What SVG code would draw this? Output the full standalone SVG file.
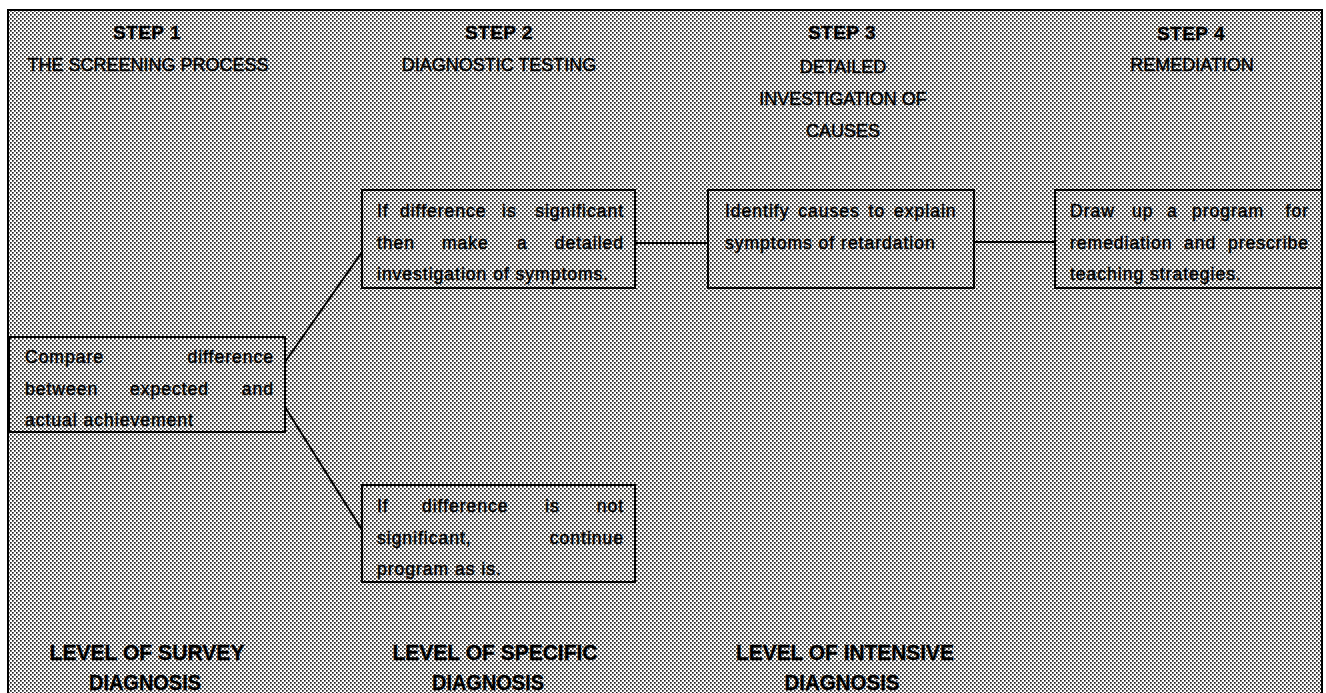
<svg xmlns="http://www.w3.org/2000/svg" width="1326" height="693" viewBox="0 0 1326 693">
<defs>
<pattern id="dots" width="4" height="4" patternUnits="userSpaceOnUse">
<rect width="4" height="4" fill="#ffffff"/>
<rect x="0" y="0" width="1.7" height="1.7" fill="#222222"/>
<rect x="2" y="2" width="1.7" height="1.7" fill="#222222"/>
</pattern>
<style>
.box{fill:none;stroke:#000;stroke-width:2;shape-rendering:crispEdges}
.con{fill:none;stroke:#000;stroke-width:2}
.h{shape-rendering:crispEdges}
.step{font-family:"Liberation Sans",Arial,sans-serif;font-weight:bold;font-size:19px;fill:#000;stroke:#000;stroke-width:0.3;text-anchor:middle;letter-spacing:0.5px}
.sub{font-family:"Liberation Sans",Arial,sans-serif;font-size:18px;fill:#000;stroke:#000;stroke-width:0.45;text-anchor:middle}
.body{font-family:"Liberation Sans",Arial,sans-serif;font-size:17.5px;fill:#000;stroke:#000;stroke-width:0.45;letter-spacing:1px}
.end{text-anchor:end}
.lvl{font-family:"Liberation Sans",Arial,sans-serif;font-weight:bold;font-size:22px;fill:#000;stroke:#000;stroke-width:0.3;text-anchor:middle}
</style>
</defs>
<rect x="0" y="0" width="1326" height="693" fill="#ffffff"/>
<rect id="frame" x="8" y="10" width="1314" height="700" fill="url(#dots)" stroke="#000" stroke-width="2" shape-rendering="crispEdges"/>

<g id="headers">
<text class="step" x="147" y="39">STEP 1</text>
<text class="sub" x="148" y="71">THE SCREENING PROCESS</text>
<text class="step" x="499" y="39">STEP 2</text>
<text class="sub" x="499" y="71">DIAGNOSTIC TESTING</text>
<text class="step" x="842" y="39">STEP 3</text>
<text class="sub" x="843" y="73">DETAILED</text>
<text class="sub" x="843" y="105">INVESTIGATION OF</text>
<text class="sub" x="843" y="137">CAUSES</text>
<text class="step" x="1191" y="40">STEP 4</text>
<text class="sub" x="1192" y="71">REMEDIATION</text>
</g>

<g id="connectors">
<line class="con" x1="285" y1="362" x2="362" y2="252"/>
<line class="con" x1="285" y1="407" x2="362" y2="530"/>
<line class="con h" x1="635" y1="243" x2="708" y2="243"/>
<line class="con h" x1="974" y1="242" x2="1055" y2="242"/>
</g>

<g id="nodeA">
<rect class="box" x="9" y="337" width="276" height="95"/>
<text class="body" x="25" y="363">Compare</text>
<text class="body end" x="274" y="363">difference</text>
<text class="body" y="395"><tspan x="25">between</tspan><tspan x="130">expected</tspan></text>
<text class="body end" x="274" y="395">and</text>
<text class="body" x="25" y="426">actual achievement</text>
</g>

<g id="nodeB">
<rect class="box" x="362" y="190" width="273" height="98"/>
<text class="body" y="217"><tspan x="377">If</tspan><tspan x="400">difference</tspan><tspan x="502">is</tspan></text>
<text class="body end" x="624" y="217">significant</text>
<text class="body" y="249"><tspan x="377">then</tspan><tspan x="442">make</tspan><tspan x="517">a</tspan></text>
<text class="body end" x="624" y="249">detailed</text>
<text class="body" x="377" y="280">investigation of symptoms.</text>
</g>

<g id="nodeC">
<rect class="box" x="708" y="190" width="266" height="98"/>
<text class="body" x="725" y="217" word-spacing="3">Identify causes to explain</text>
<text class="body" x="725" y="249">symptoms of retardation</text>
</g>

<g id="nodeD">
<rect class="box" x="1055" y="190" width="267" height="98"/>
<text class="body" y="217"><tspan x="1070">Draw</tspan><tspan x="1132">up</tspan><tspan x="1167">a</tspan><tspan x="1192">program</tspan></text>
<text class="body end" x="1309" y="217">for</text>
<text class="body" y="249"><tspan x="1070">remediation</tspan><tspan x="1184">and</tspan></text>
<text class="body end" x="1309" y="249">prescribe</text>
<text class="body" x="1070" y="280">teaching strategies.</text>
</g>

<g id="nodeE">
<rect class="box" x="362" y="485" width="273" height="97"/>
<text class="body" y="512"><tspan x="377">If</tspan><tspan x="422">difference</tspan><tspan x="545">is</tspan></text>
<text class="body end" x="624" y="512">not</text>
<text class="body" x="377" y="544">significant,</text>
<text class="body end" x="624" y="544">continue</text>
<text class="body" x="377" y="575">program as is.</text>
</g>

<g id="levels">
<text class="lvl" x="147" y="660" textLength="195" lengthAdjust="spacingAndGlyphs">LEVEL OF SURVEY</text>
<text class="lvl" x="145" y="690" textLength="112" lengthAdjust="spacingAndGlyphs">DIAGNOSIS</text>
<text class="lvl" x="495" y="660" textLength="205" lengthAdjust="spacingAndGlyphs">LEVEL OF SPECIFIC</text>
<text class="lvl" x="488" y="690" textLength="112" lengthAdjust="spacingAndGlyphs">DIAGNOSIS</text>
<text class="lvl" x="845" y="660" textLength="218" lengthAdjust="spacingAndGlyphs">LEVEL OF INTENSIVE</text>
<text class="lvl" x="842" y="690" textLength="115" lengthAdjust="spacingAndGlyphs">DIAGNOSIS</text>
</g>
</svg>
